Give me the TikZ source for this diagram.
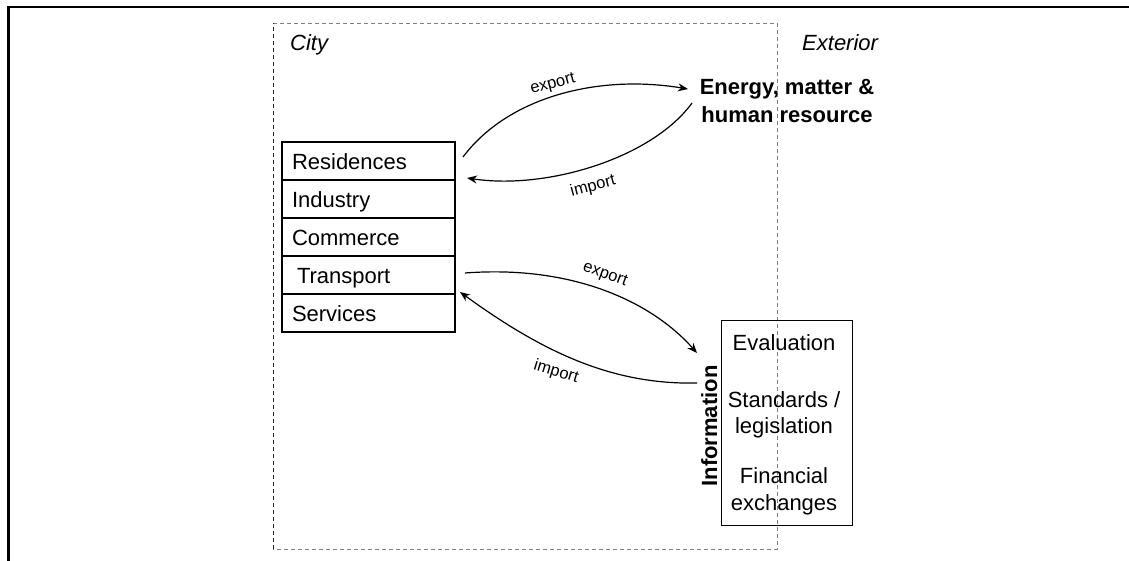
\documentclass[tikz,border=0pt]{standalone}
\usepackage{fontspec}
\setmainfont{Liberation Sans}
\usetikzlibrary{arrows.meta}
\begin{document}
\begin{tikzpicture}[x=1pt,y=-1pt,
  big/.style={font=\fontsize{22}{26.4}\selectfont, inner sep=0pt},
  row/.style={draw, line width=1.8pt, minimum height=38pt, text width=153pt,
    inner xsep=10pt, inner ysep=0pt, outer sep=0pt, align=left,
    text height=16pt, text depth=0pt, font=\fontsize{22}{26.4}\selectfont,
    anchor=north west},
  lbl/.style={font=\fontsize{16.5}{19}\selectfont, inner sep=0pt},
  flow/.style={line width=1.2pt, -{Stealth[length=10pt,width=8pt]}},
  citybox/.style={gray, dash pattern=on 4pt off 3pt, line width=1pt}]
\useasboundingbox (0,0) rectangle (1129,560);
% outer frame
\draw[line width=2.5pt] (8.3,565) -- (8.3,7.2) -- (1135,7.2);
% city boundary
\draw[citybox] (273,23) -- (777,23) -- (777,549) -- (273,549);
\draw[citybox, black!85] (273,549) -- (273,23);
\node[big, font=\itshape\fontsize{22}{26.4}\selectfont, anchor=base west] (city) at (290,50) {City};
\node[big, font=\itshape\fontsize{22}{26.4}\selectfont, anchor=base west] (ext) at (802,50) {Exterior};
% sectors
\node[row] (res) at (282,142) {Residences};
\node[row] (ind) at (282,180) {Industry};
\node[row] (com) at (282,218) {Commerce};
\node[row] (tra) at (282,256) {\hspace*{5pt}Transport};
\node[row] (ser) at (282,294) {Services};
% energy
\node[big, font=\bfseries\fontsize{22}{27.5}\selectfont, align=center] (energy) at (787,100.75) {Energy, matter \&\\human resource};
% information box
\node[draw, line width=0.8pt, minimum width=131pt, minimum height=205pt, inner sep=0pt, outer sep=0pt, anchor=north west] (info) at (721,320) {};
\node[big, anchor=base] (ev) at (784,350) {Evaluation};
\node[big, anchor=base] (st1) at (784,407.5) {Standards /};
\node[big, anchor=base] (st2) at (784,433) {legislation};
\node[big, anchor=base] (fi1) at (784,483) {Financial};
\node[big, anchor=base] (fi2) at (784,510) {exchanges};
\node[big, font=\bfseries\fontsize{22}{26.4}\selectfont, rotate=90, anchor=base] (infolbl) at (717,426) {Information};
% connector ends
\coordinate (c1s) at (463,157);
\coordinate (c1e) at (688,89);
\coordinate (c2s) at (692,103);
\coordinate (c2e) at (467,178);
\coordinate (c3s) at (465,273);
\coordinate (c3e) at (697,353);
\coordinate (c4s) at (697,383);
\coordinate (c4e) at (460,292);
\draw[flow] (c1s) .. controls (508,97) and (598,74) .. (c1e);
\draw[flow] (c2s) .. controls (652,158) and (547,190) .. (c2e);
\draw[flow] (c3s) .. controls (570,265) and (650,300) .. (c3e);
\draw[flow] (c4s) .. controls (610,385) and (540,350) .. (c4e);
\node[lbl, rotate=15] (l1) at (553,84.5) {export};
\node[lbl, rotate=15] (l2) at (593,186.5) {import};
\node[lbl, rotate=-20] (l3) at (605,274.5) {export};
\node[lbl, rotate=-17] (l4) at (556,372) {import};
\end{tikzpicture}
\end{document}
